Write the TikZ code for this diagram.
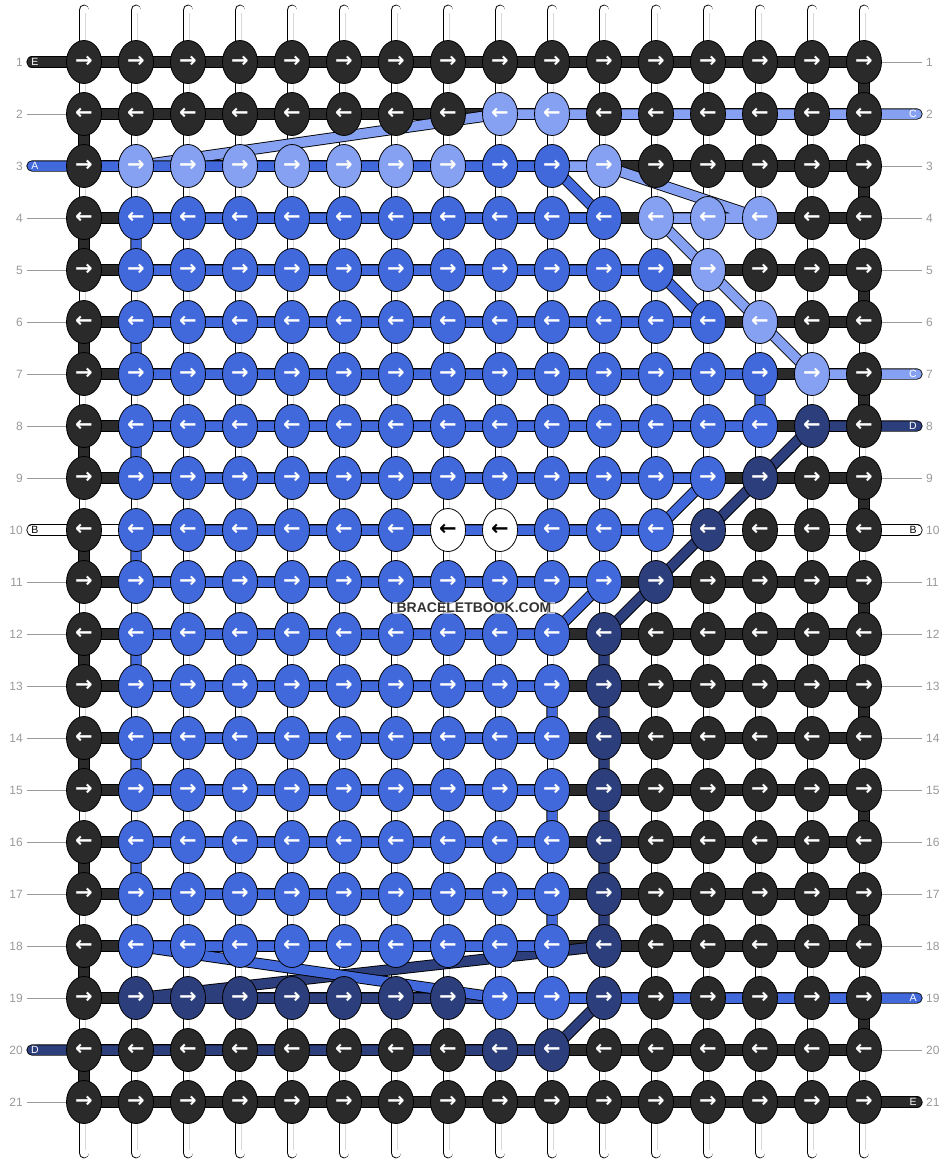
\documentclass[tikz,border=0pt]{standalone}
\usepackage{fontspec}
\setmainfont{Liberation Sans}
\newfontfamily\arrowfont{DejaVu Sans}
\usetikzlibrary{shapes.geometric}
\pgfdeclarelayer{base}
\pgfdeclarelayer{strs}
\pgfsetlayers{base,strs,main}
\definecolor{colK}{HTML}{2A2A2A}
\definecolor{colB}{HTML}{4169DC}
\definecolor{colL}{HTML}{87A1F2}
\definecolor{colN}{HTML}{2D3E7C}
\definecolor{colW}{HTML}{FFFFFF}
\definecolor{lblgray}{HTML}{9A9A9A}
\definecolor{wmtext}{HTML}{333333}
\tikzset{
  knot/.style={ellipse, draw=black, line width=0.8pt, minimum width=35pt, minimum height=43pt, inner sep=0pt,
    font=\arrowfont\bfseries\fontsize{21}{21}\selectfont},
  knK/.style={knot, fill=colK, text=white},
  knB/.style={knot, fill=colB, text=white},
  knL/.style={knot, fill=colL, text=white},
  knN/.style={knot, fill=colN, text=white},
  knW/.style={knot, fill=colW, text=black},
  str/.style={line width=0.9pt, draw=black, double=#1, double distance=9.5pt, line join=round, line cap=round},
  basestr/.style={line width=0.9pt, draw=black, double=white, double distance=9pt, line cap=round},
  rownum/.style={text=lblgray, font=\fontsize{12}{12}\selectfont, inner sep=0pt},
  leader/.style={draw=lblgray, line width=0.6pt},
  endlbl/.style={font=\fontsize{10.5}{10.5}\selectfont, inner sep=0pt},
}
\begin{document}
\begin{tikzpicture}[x=1pt,y=-1pt]
\useasboundingbox (0,0) rectangle (948,1164);
\begin{pgfonlayer}{base}
\fill[white] (0,0) rectangle (948,1164);
\foreach \ci in {1,...,16}{
  \coordinate (top-\ci) at ({32+52*\ci},10);
  \coordinate (bot-\ci) at ({32+52*\ci},1153);
  \draw[basestr] (top-\ci) -- (bot-\ci);
  \draw[gray!30, line width=0.7pt] ([xshift=1pt,yshift=-3pt]top-\ci) -- ([xshift=1pt,yshift=3pt]bot-\ci);
}
\end{pgfonlayer}
% knots
\foreach \ri/\cols in {
 1/{K,K,K,K,K,K,K,K,K,K,K,K,K,K,K,K},
 2/{K,K,K,K,K,K,K,K,L,L,K,K,K,K,K,K},
 3/{K,L,L,L,L,L,L,L,B,B,L,K,K,K,K,K},
 4/{K,B,B,B,B,B,B,B,B,B,B,L,L,L,K,K},
 5/{K,B,B,B,B,B,B,B,B,B,B,B,L,K,K,K},
 6/{K,B,B,B,B,B,B,B,B,B,B,B,B,L,K,K},
 7/{K,B,B,B,B,B,B,B,B,B,B,B,B,B,L,K},
 8/{K,B,B,B,B,B,B,B,B,B,B,B,B,B,N,K},
 9/{K,B,B,B,B,B,B,B,B,B,B,B,B,N,K,K},
 10/{K,B,B,B,B,B,B,W,W,B,B,B,N,K,K,K},
 11/{K,B,B,B,B,B,B,B,B,B,B,N,K,K,K,K},
 12/{K,B,B,B,B,B,B,B,B,B,N,K,K,K,K,K},
 13/{K,B,B,B,B,B,B,B,B,B,N,K,K,K,K,K},
 14/{K,B,B,B,B,B,B,B,B,B,N,K,K,K,K,K},
 15/{K,B,B,B,B,B,B,B,B,B,N,K,K,K,K,K},
 16/{K,B,B,B,B,B,B,B,B,B,N,K,K,K,K,K},
 17/{K,B,B,B,B,B,B,B,B,B,N,K,K,K,K,K},
 18/{K,B,B,B,B,B,B,B,B,B,N,K,K,K,K,K},
 19/{K,N,N,N,N,N,N,N,B,B,N,K,K,K,K,K},
 20/{K,K,K,K,K,K,K,K,N,N,K,K,K,K,K,K},
 21/{K,K,K,K,K,K,K,K,K,K,K,K,K,K,K,K}}{
  \foreach \kc [count=\ci] in \cols {
    \node[kn\kc] (k-\ri-\ci) at ({32+52*\ci},{10+52*\ri}) {\ifodd\ri\relax →\else ←\fi};
  }
  \node[rownum, anchor=east] (nl-\ri) at (23,{10+52*\ri}) {\ri};
  \node[rownum, anchor=west] (nr-\ri) at (926,{10+52*\ri}) {\ri};
  \coordinate (L-\ri) at (32,{10+52*\ri});
  \coordinate (R-\ri) at (917,{10+52*\ri});
}
% leader lines
\foreach \ri in {2,4,5,6,7,8,9,11,12,13,14,15,16,17,18,19,21}{
  \draw[leader] ([xshift=4pt]nl-\ri.east) -- (k-\ri-1.west);
}
\foreach \ri in {1,3,4,5,6,9,11,12,13,14,15,16,17,18,20}{
  \draw[leader] (k-\ri-16.east) -- ([xshift=-4pt]nr-\ri.west);
}
\begin{pgfonlayer}{strs}
% E (dark) zigzag
\draw[str=colK] (L-1) -- (k-1-1.center) -- (k-1-16.center)
  \foreach \ri/\ca/\cb in {2/16/1,3/1/16,4/16/1,5/1/16,6/16/1,7/1/16,8/16/1,9/1/16,10/16/1,11/1/16,12/16/1,13/1/16,14/16/1,15/1/16,16/16/1,17/1/16,18/16/1,19/1/16,20/16/1,21/1/16}
  { -- (k-\ri-\ca.center) -- (k-\ri-\cb.center) } -- (R-21);
% B (white)
\draw[str=white] (R-10) -- (k-10-16.center) -- (k-10-1.center) -- (L-10);
% C (light blue)
\draw[str=colL] (R-2) -- (k-2-16.center) -- (k-2-9.center) -- (k-3-2.center) -- (k-3-11.center)
  -- (k-4-14.center) -- (k-4-12.center) -- (k-5-13.center) -- (k-6-14.center) -- (k-7-15.center) -- (R-7);
% D (navy)
\draw[str=colN] (R-8) -- (k-8-16.center) -- (k-8-15.center) -- (k-12-11.center) -- (k-18-11.center)
  -- (k-19-2.center) -- (k-19-11.center) -- (k-20-10.center) -- (L-20);
% A (blue)
\draw[str=colB] (L-3) -- (k-3-10.center) -- (k-4-11.center) -- (k-4-2.center) -- (k-5-2.center)
  -- (k-5-12.center) -- (k-6-13.center) -- (k-6-2.center) -- (k-7-2.center) -- (k-7-14.center)
  -- (k-8-14.center) -- (k-8-2.center) -- (k-9-2.center) -- (k-9-13.center) -- (k-10-12.center)
  -- (k-10-2.center) -- (k-11-2.center) -- (k-11-11.center) -- (k-12-10.center) -- (k-12-2.center)
  -- (k-13-2.center) -- (k-13-10.center) -- (k-14-10.center) -- (k-14-2.center) -- (k-15-2.center)
  -- (k-15-10.center) -- (k-16-10.center) -- (k-16-2.center) -- (k-17-2.center) -- (k-17-10.center)
  -- (k-18-10.center) -- (k-18-2.center) -- (k-19-9.center) -- (R-19);
\end{pgfonlayer}
% end labels
\node[endlbl, text=white] (eE1) at (35,62) {E};
\node[endlbl, text=white] (eA3) at (35,166) {A};
\node[endlbl, text=black] (eB10l) at (35,530) {B};
\node[endlbl, text=white] (eD20) at (35,1050) {D};
\node[endlbl, text=white] (eC2) at (913,114) {C};
\node[endlbl, text=white] (eC7) at (913,374) {C};
\node[endlbl, text=white] (eD8) at (913,426) {D};
\node[endlbl, text=black] (eB10r) at (913,530) {B};
\node[endlbl, text=white] (eA19) at (913,998) {A};
\node[endlbl, text=white] (eE21) at (913,1102) {E};
% watermark
\node[fill=white, fill opacity=0.6, text opacity=1, text=wmtext, inner xsep=4pt, inner ysep=1.5pt,
  font=\bfseries\fontsize{14}{14}\selectfont] (wm) at (474,608) {BRACELETBOOK.COM};
\end{tikzpicture}
\end{document}
